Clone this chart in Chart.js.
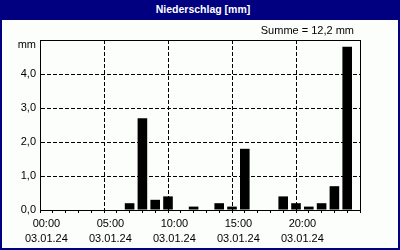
<!DOCTYPE html>
<html>
<head>
<meta charset="utf-8">
<script src="https://cdn.jsdelivr.net/npm/chart.js@4"></script>
<style>
  html, body { margin: 0; padding: 0; background: #fcfefc; }
  #box { position: relative; width: 400px; height: 250px; overflow: hidden; background: #fcfefc; }
  #chart { position: absolute; left: 0; top: 0; }
  #titlebar {
    position: absolute; left: 0; top: 0; width: 400px; height: 20px; background: #000080;
    color: #fff; font: bold 10.5px 'Liberation Sans', Arial, sans-serif;
    line-height: 19px; text-align: center; padding-left: 6px; box-sizing: border-box;
  }
  #frame {
    position: absolute; left: 0; top: 0; width: 400px; height: 250px; box-sizing: border-box;
    border: 2px solid #000080; border-top: 0; pointer-events: none;
  }
</style>
</head>
<body>
<div id="box">
  <canvas id="chart" width="400" height="250"></canvas>
  <div id="titlebar">Niederschlag [mm]</div>
  <div id="frame"></div>
</div>
<script>
// --- data (03.01.24, hourly precipitation in mm) ---
const hours = [0, 1, 2, 3, 4, 5, 6, 7, 8, 9, 10, 11, 12, 13, 14, 15, 16, 17, 18, 19, 20, 21, 22, 23];
const niederschlag = [0, 0, 0, 0, 0, 0, 0.2, 2.7, 0.3, 0.4, 0, 0.1, 0, 0.2, 0.1, 1.8, 0, 0, 0.4, 0.2, 0.1, 0.2, 0.7, 4.8];
const tickHours = [0, 5, 10, 15, 20];
const tickTimes = ['00:00', '05:00', '10:00', '15:00', '20:00'];
const tickDate = '03.01.24';
const yMax = 5;
const unit = 'mm';

const FONT = "'Liberation Sans Narrow', 'Liberation Sans', Arial, sans-serif";
const fmt = v => v.toFixed(1).replace('.', ',');
const summe = niederschlag.reduce((a, b) => a + b, 0);

// frame + "mm" + "Summe" text
const extras = {
    id: 'extras',
    afterDraw(chart) {
        const { ctx, chartArea: a, scales } = chart;
        ctx.save();
        ctx.strokeStyle = '#000';
        ctx.lineWidth = 1;
        ctx.strokeRect(Math.round(a.left) + 0.5, Math.round(a.top) + 0.5, Math.round(a.right - a.left), Math.round(a.bottom - a.top));
        ctx.fillStyle = '#000';
        ctx.font = '11px ' + FONT;
        ctx.textAlign = 'right';
        ctx.textBaseline = 'middle';
        ctx.fillText(unit, a.left - 4, scales.y.getPixelForValue(yMax) + 5);
        ctx.fillText('Summe = ' + fmt(summe) + ' mm', a.right - 6, 31);
        ctx.restore();
    }
};

new Chart(document.getElementById('chart'), {
    type: 'bar',
    data: {
        datasets: [{
            data: hours.map((h, i) => ({ x: h + 0.5, y: niederschlag[i] })),
            backgroundColor: '#000',
            borderWidth: 0,
            barPercentage: 0.75,
            categoryPercentage: 1
        }]
    },
    options: {
        responsive: false,
        animation: false,
        events: [],
        layout: { padding: { left: 0, right: 40, top: 40, bottom: 2 } },
        plugins: { legend: { display: false }, tooltip: { enabled: false }, title: { display: false } },
        scales: {
            x: {
                type: 'linear',
                min: 0,
                max: 24,
                afterFit: s => { s.height = 38; },
                afterBuildTicks: s => { s.ticks = Array.from({ length: 25 }, (_, i) => ({ value: i })); },
                ticks: {
                    autoSkip: false,
                    maxRotation: 0,
                    padding: 3,
                    color: '#000',
                    font: { family: FONT, size: 11, lineHeight: 1.4 },
                    callback: v => {
                        const k = tickHours.indexOf(v);
                        return k >= 0 ? [tickTimes[k], tickDate] : '';
                    }
                },
                grid: {
                    color: c => (c.tick && tickHours.includes(c.tick.value) && c.tick.value > 0) ? '#000' : 'rgba(0,0,0,0)',
                    tickColor: '#000',
                    tickLength: 3,
                    lineWidth: 1
                },
                border: { display: true, color: '#000', width: 1, dash: [4, 2] }
            },
            y: {
                min: 0,
                max: yMax,
                afterFit: s => { s.width = 40; },
                ticks: {
                    stepSize: 1,
                    padding: 4,
                    color: '#000',
                    font: { family: FONT, size: 11 },
                    callback: v => (v >= yMax ? '' : fmt(v))
                },
                grid: {
                    drawTicks: false,
                    color: c => (c.tick && c.tick.value > 0 && c.tick.value < yMax) ? '#000' : 'rgba(0,0,0,0)',
                    lineWidth: 1
                },
                border: { display: true, color: '#000', width: 1, dash: [4, 2] }
            }
        }
    },
    plugins: [extras]
});
</script>
</body>
</html>
